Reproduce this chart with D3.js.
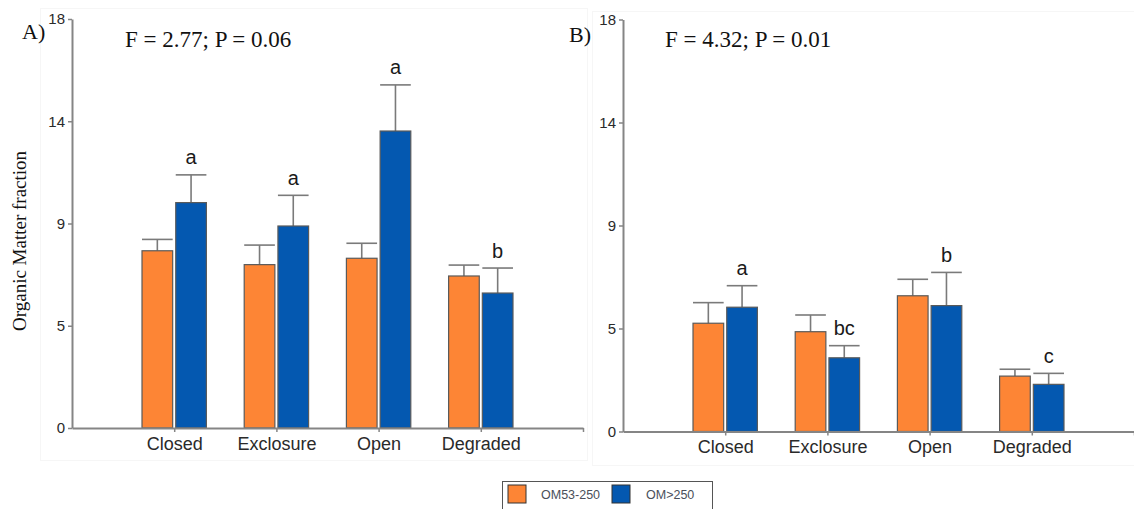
<!DOCTYPE html>
<html><head><meta charset="utf-8">
<script src="https://cdn.jsdelivr.net/npm/d3@7"></script>
<style>
html,body{margin:0;padding:0;background:#fff;}
svg{display:block;}
</style></head>
<body>
<svg id="chart" width="1134" height="509"></svg>
<script>
// ---------- data ----------
const categories = ["Closed", "Exclosure", "Open", "Degraded"];
const seriesNames = ["OM53-250", "OM>250"];
const yTickValues = [0, 4.5, 9, 13.5, 18];
const yTickLabels = ["0", "5", "9", "14", "18"];

// Panel A
const aSmall = [7.80, 7.19, 7.47, 6.69];
const aSmallErr = [0.50, 0.86, 0.66, 0.48];
const aLarge = [9.92, 8.89, 13.07, 5.94];
const aLargeErr = [1.22, 1.35, 2.03, 1.10];
const aLetters = ["a", "a", "a", "b"];
const aStat = "F = 2.77; P = 0.06";

// Panel B
const bSmall = [4.73, 4.36, 5.93, 2.42];
const bSmallErr = [0.90, 0.73, 0.72, 0.30];
const bLarge = [5.43, 3.22, 5.50, 2.06];
const bLargeErr = [0.94, 0.53, 1.45, 0.48];
const bLetters = ["a", "bc", "b", "c"];
const bStat = "F = 4.32; P = 0.01";

const colors = ["#FD8535", "#0458B0"];

const svg = d3.select("#chart");

// faint panel frames
svg.append("rect").attr("x", 40.5).attr("y", 8.5).attr("width", 547).attr("height", 452)
  .attr("fill", "none").attr("stroke", "#f6f6f6");
svg.append("rect").attr("x", 592.5).attr("y", 11.5).attr("width", 545).attr("height", 454)
  .attr("fill", "none").attr("stroke", "#f6f6f6");

function panel(opts) {
  const g = svg.append("g");
  const x = d3.scaleLinear().domain([0, 5]).range([opts.x0, opts.x1]);
  const y = d3.scaleLinear().domain([0, 18]).range([opts.y0, opts.y1]);
  const step = x(1) - x(0);
  const bw = step * 0.3;
  const gap = step * 0.015;

  const rows = [];
  categories.forEach((c, i) => {
    rows.push({cat: i + 1, s: 0, v: opts.small[i], e: opts.smallErr[i]});
    rows.push({cat: i + 1, s: 1, v: opts.large[i], e: opts.largeErr[i]});
  });
  const bx = d => d.s === 0 ? x(d.cat) - gap - bw : x(d.cat) + gap;

  // error bars (behind bars)
  const eb = g.append("g").attr("stroke", "#7a7a7a").attr("stroke-width", 1.6);
  eb.selectAll("line.v").data(rows).join("line")
    .attr("x1", d => bx(d) + bw / 2).attr("x2", d => bx(d) + bw / 2)
    .attr("y1", d => y(d.v)).attr("y2", d => y(d.v + d.e));
  eb.selectAll("line.c").data(rows).join("line")
    .attr("x1", d => bx(d)).attr("x2", d => bx(d) + bw)
    .attr("y1", d => y(d.v + d.e)).attr("y2", d => y(d.v + d.e));

  // bars
  g.append("g").selectAll("rect").data(rows).join("rect")
    .attr("x", d => bx(d)).attr("width", bw)
    .attr("y", d => y(d.v)).attr("height", d => y(0) - y(d.v))
    .attr("fill", d => colors[d.s])
    .attr("stroke", "#5a5a5a").attr("stroke-width", 1.2);

  // letters
  g.append("g").selectAll("text").data(rows.filter(d => d.s === 1)).join("text")
    .attr("x", d => bx(d) + bw / 2)
    .attr("y", d => y(d.v + d.e) - 10.5)
    .attr("text-anchor", "middle")
    .attr("font-family", "Liberation Sans, Arial, sans-serif")
    .attr("font-size", 20).attr("fill", "#1a1a1a")
    .text((d, i) => opts.letters[i]);

  // axes
  const yAxis = d3.axisLeft(y).tickValues(yTickValues)
    .tickFormat((d, i) => yTickLabels[i]).tickSize(4).tickSizeOuter(0).tickPadding(3);
  const ya = g.append("g").attr("transform", `translate(${opts.x0},0)`).call(yAxis);
  const xAxis = d3.axisBottom(x).tickValues([1, 2, 3, 4, 5])
    .tickFormat(d => d <= 4 ? categories[d - 1] : "").tickSize(4).tickSizeOuter(0).tickPadding(5);
  const xa = g.append("g").attr("transform", `translate(0,${opts.y0})`).call(xAxis);
  [ya, xa].forEach(a => {
    a.select(".domain").attr("stroke", "#858585").attr("stroke-width", 2);
    a.selectAll(".tick line").attr("stroke", "#858585").attr("stroke-width", 1.5);
  });
  ya.selectAll(".tick text").attr("font-family", "Liberation Sans, Arial, sans-serif")
    .attr("font-size", 15).attr("fill", "#2a2a2a");
  xa.selectAll(".tick text").attr("font-family", "Liberation Sans, Arial, sans-serif")
    .attr("font-size", 18).attr("fill", "#2a2a2a").attr("dy", "0.72em");

  // panel label and stats
  g.append("text").attr("x", opts.labelX).attr("y", opts.labelY)
    .attr("font-family", "Liberation Serif, Times New Roman, serif")
    .attr("font-size", 22).attr("fill", "#111").text(opts.label);
  g.append("text").attr("x", opts.statX).attr("y", 47)
    .attr("font-family", "Liberation Serif, Times New Roman, serif")
    .attr("font-size", 23).attr("fill", "#111").text(opts.stat);
}

panel({x0: 72, x1: 583, y0: 428, y1: 19, small: aSmall, smallErr: aSmallErr,
  large: aLarge, largeErr: aLargeErr, letters: aLetters, label: "A)", labelX: 22, labelY: 39,
  stat: aStat, statX: 125});
panel({x0: 623, x1: 1134, y0: 431.5, y1: 19.5, small: bSmall, smallErr: bSmallErr,
  large: bLarge, largeErr: bLargeErr, letters: bLetters, label: "B)", labelX: 569, labelY: 42,
  stat: bStat, statX: 665});

// y-axis title
svg.append("text")
  .attr("transform", "translate(26,331) rotate(-90)")
  .attr("text-anchor", "start")
  .attr("font-family", "Liberation Serif, Times New Roman, serif")
  .attr("font-size", 19).attr("fill", "#111")
  .text("Organic Matter fraction");

// legend
const lg = svg.append("g");
lg.append("rect").attr("x", 502.5).attr("y", 481.5).attr("width", 210).attr("height", 40)
  .attr("fill", "#fff").attr("stroke", "#555").attr("stroke-width", 1);
const legendItems = seriesNames.map((n, i) => ({name: n, color: colors[i], x: [508, 612][i], tx: [541, 646][i]}));
lg.selectAll("rect.sw").data(legendItems).join("rect")
  .attr("class", "sw")
  .attr("x", d => d.x).attr("y", 485).attr("width", 18).attr("height", 18)
  .attr("fill", d => d.color).attr("stroke", "#333").attr("stroke-width", 1);
lg.selectAll("text").data(legendItems).join("text")
  .attr("x", d => d.tx).attr("y", 499)
  .attr("font-family", "Liberation Sans, Arial, sans-serif")
  .attr("font-size", 12.5).attr("fill", "#4a4f5a")
  .text(d => d.name);
</script>
</body></html>
